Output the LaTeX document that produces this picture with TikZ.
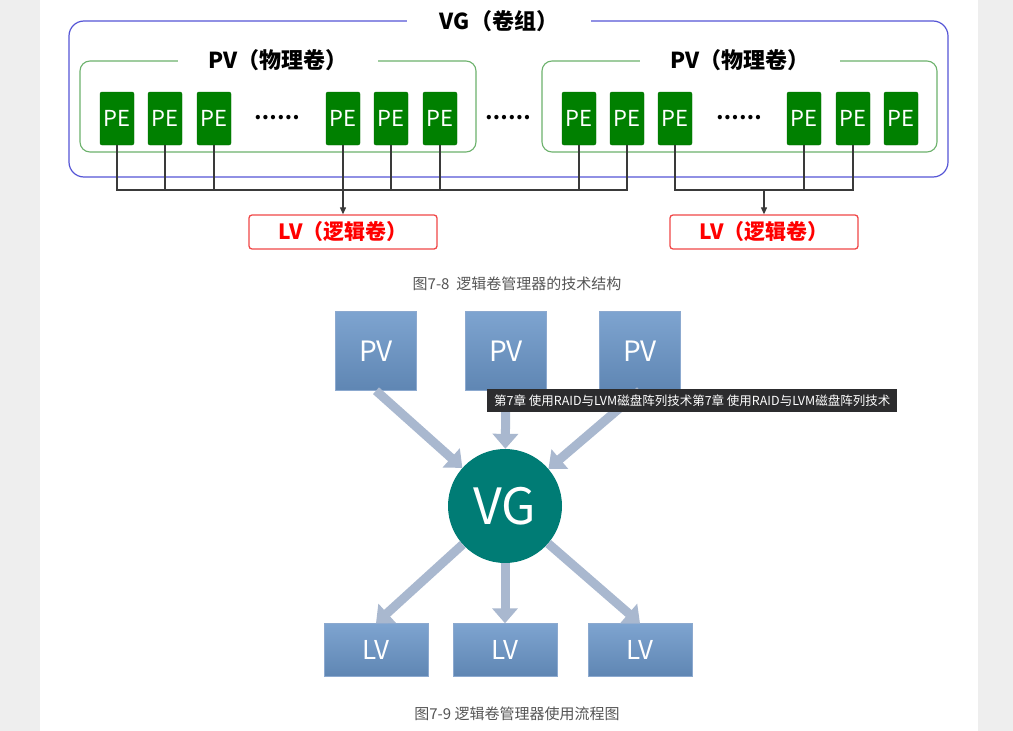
\documentclass[tikz,border=0pt]{standalone}
\usepackage{fontspec}
\setmainfont{Noto Sans CJK SC}
\usepackage{xcolor}
\usetikzlibrary{arrows.meta}
\definecolor{pagegray}{HTML}{EEEEEE}
\definecolor{vgline}{HTML}{5656D6}
\definecolor{pvline}{HTML}{6DB26D}
\definecolor{pegreen}{HTML}{008000}
\definecolor{lvred}{HTML}{F04848}
\definecolor{linkgray}{HTML}{3A3A3A}
\definecolor{boxtop}{HTML}{7EA4D0}
\definecolor{boxbottom}{HTML}{5F86B3}
\definecolor{boxedge}{HTML}{8CA9CF}
\definecolor{diskteal}{HTML}{007C75}
\definecolor{fatgray}{HTML}{A9B8CF}
\definecolor{captiongray}{HTML}{555555}
\definecolor{tipdark}{HTML}{2C2C2E}

\begin{document}
\begin{tikzpicture}[x=1pt,y=-1pt,
    title/.style={fill=white, inner xsep=30pt, inner ysep=2pt, font=\fontsize{22}{26}\selectfont\bfseries},
    pebox/.style={fill=pegreen, draw=pegreen!85!black, rounded corners=2pt, minimum width=34pt,
        minimum height=53pt, inner sep=0pt, text=white, font=\fontsize{22}{26}\selectfont},
    dots/.style={font=\fontsize{20}{24}\selectfont\bfseries},
    link/.style={draw=linkgray, line width=1.1pt},
    lvbox/.style={draw=lvred, line width=1.3pt, fill=white, rounded corners=3pt, minimum width=188pt,
        minimum height=34pt, text=red, font=\fontsize{21}{25}\selectfont\bfseries},
    pvbox/.style={top color=boxtop, bottom color=boxbottom, draw=boxedge, minimum width=81pt,
        minimum height=79pt, text=white, font=\fontsize{28}{32}\selectfont},
    lvblock/.style={pvbox, minimum width=104pt, minimum height=53pt, font=\fontsize{26}{30}\selectfont},
    vgdisk/.style={circle, fill=diskteal, minimum size=114pt, inner sep=0pt, text=white,
        font=\fontsize{50}{54}\selectfont},
    fat/.style={draw=fatgray, line width=9pt, -{Triangle[width=25pt,length=15pt]}},
    caption/.style={text=captiongray, font=\fontsize{15}{18}\selectfont}
  ]
    % page
    \fill[white] (0,0) rectangle (1013,731);
    \fill[pagegray] (0,0) rectangle (40,731);
    \fill[pagegray] (978,0) rectangle (1013,731);

    % figure 7-8: frames
    \draw[vgline, line width=1.2pt, rounded corners=15pt] (69,21) rectangle (948,177);
    \draw[pvline, line width=1.1pt, rounded corners=10pt] (80,61) rectangle (476,152);
    \draw[pvline, line width=1.1pt, rounded corners=10pt] (542,61) rectangle (937,152);
    \node[title, inner xsep=33pt] (vgtitle) at (499,21) {VG（卷组）};
    \node[title] (pvtitleL) at (278,60) {PV（物理卷）};
    \node[title] (pvtitleR) at (740,60) {PV（物理卷）};

    % figure 7-8: extents
    \begin{scope}[every node/.style=pebox]
        \node (l1) at (117,118.5) {PE};
        \node (l2) at (165,118.5) {PE};
        \node (l3) at (214,118.5) {PE};
        \node (l4) at (343,118.5) {PE};
        \node (l5) at (391,118.5) {PE};
        \node (l6) at (440,118.5) {PE};
        \node (r1) at (579,118.5) {PE};
        \node (r2) at (627,118.5) {PE};
        \node (r3) at (675,118.5) {PE};
        \node (r4) at (804,118.5) {PE};
        \node (r5) at (853,118.5) {PE};
        \node (r6) at (901,118.5) {PE};
    \end{scope}
    \node[dots] (dotsL) at (277,118) {……};
    \node[dots] (dotsM) at (508,118) {……};
    \node[dots] (dotsR) at (739,118) {……};

    \node[lvbox] (lvL) at (343,232) {LV（逻辑卷）};
    \node[lvbox] (lvR) at (764,232) {LV（逻辑卷）};

    % figure 7-8: links
    \coordinate (bus) at (0,190);
    \coordinate (busR) at (764,190);
    \draw[link] (l1.south) |- (r2.south |- bus) -- (r2.south);
    \draw[link] (l2.south) -- (l2.south |- bus);
    \draw[link] (l3.south) -- (l3.south |- bus);
    \draw[link] (l5.south) -- (l5.south |- bus);
    \draw[link] (l6.south) -- (l6.south |- bus);
    \draw[link] (r1.south) -- (r1.south |- bus);
    \draw[link] (r3.south) |- (r5.south |- bus) -- (r5.south);
    \draw[link] (r4.south) -- (r4.south |- bus);
    \draw[link, -{Triangle[width=6pt,length=7pt]}] (l4.south) -- (lvL.north);
    \draw[link, -{Triangle[width=6pt,length=7pt]}] (busR) -- (lvR.north);

    \node[caption] (cap8) at (517,284) {图7-8\ \ 逻辑卷管理器的技术结构};

    % figure 7-9
    \node[pvbox] (pv1) at (376,351) {PV};
    \node[pvbox] (pv2) at (506,351) {PV};
    \node[pvbox] (pv3) at (640,351) {PV};
    \node[vgdisk] (vg) at (505,506) {VG};
    \node[lvblock] (lv1) at (376,650) {LV};
    \node[lvblock] (lv2) at (505,650) {LV};
    \node[lvblock] (lv3) at (640,650) {LV};

    \draw[fat] (pv1.south) -- (vg);
    \draw[fat] (pv2) -- (vg);
    \draw[fat] (pv3.south) -- (vg);
    \draw[fat] (vg) -- (lv1.north);
    \draw[fat] (vg) -- (lv2.north);
    \draw[fat] (vg) -- (lv3.north);

    \node[caption] (cap9) at (517,714) {图7-9 逻辑卷管理器使用流程图};

    % hover tip
    \node[fill=tipdark, text=white, anchor=west, minimum height=23pt, inner xsep=7pt,
        font=\fontsize{12.5}{15}\selectfont] (hover) at (487,400.5)
        {第7章 使用RAID与LVM磁盘阵列技术第7章 使用RAID与LVM磁盘阵列技术};
\end{tikzpicture}
\end{document}
